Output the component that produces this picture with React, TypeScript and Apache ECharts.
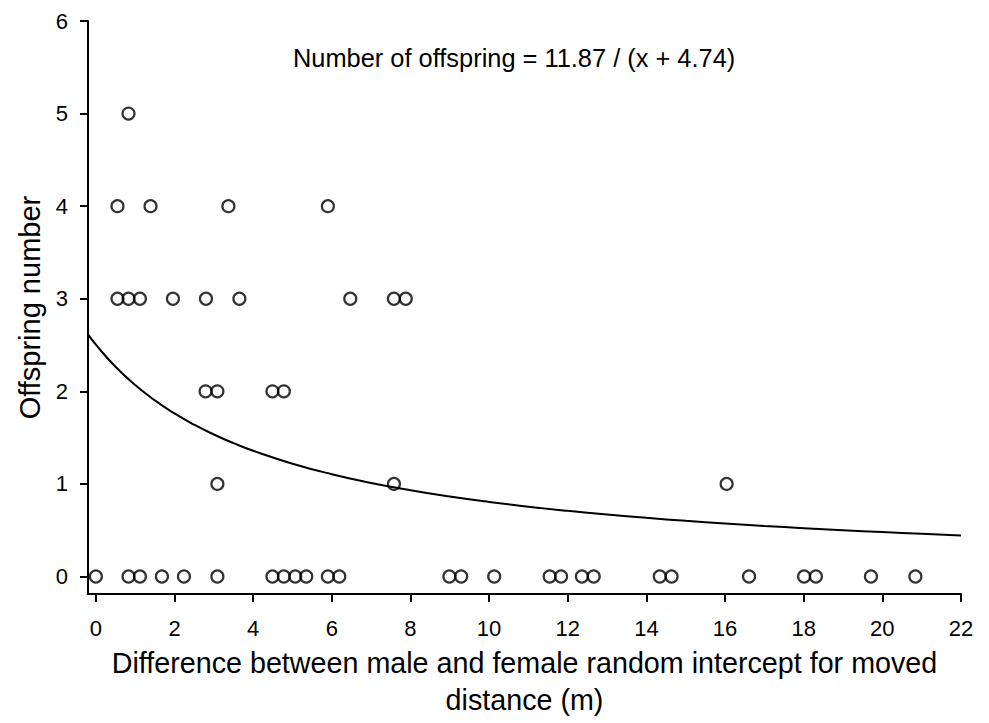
import React, { useEffect, useRef } from "react";
import * as echarts from "echarts";

// Scatter observations (difference in random intercept, offspring number)
const xValues: number[] = [
  0.83,
  0.55, 1.39, 3.37, 5.9,
  0.55, 0.83, 1.12, 1.96, 2.8, 3.65, 6.47, 7.58, 7.88,
  2.79, 3.09, 4.49, 4.78,
  3.09, 7.58, 16.04,
  0.0, 0.83, 1.12, 1.68, 2.24, 3.09, 4.49, 4.78, 5.07, 5.35, 5.9, 6.19,
  8.99, 9.29, 10.13, 11.54, 11.83, 12.36, 12.66, 14.34, 14.64,
  16.61, 18.01, 18.31, 19.71, 20.84,
];
const yValues: number[] = [
  5,
  4, 4, 4, 4,
  3, 3, 3, 3, 3, 3, 3, 3, 3,
  2, 2, 2, 2,
  1, 1, 1,
  0, 0, 0, 0, 0, 0, 0, 0, 0, 0, 0, 0,
  0, 0, 0, 0, 0, 0, 0, 0, 0,
  0, 0, 0, 0, 0,
];

// Fitted model printed on the chart: y = A / (x + B)
const fitA = 11.87;
const fitB = 4.74;
const fitX: number[] = [
  -0.2, 0, 0.5, 1, 1.5, 2, 2.5, 3, 3.5, 4, 5, 6, 7, 8, 9, 10, 11, 12, 13, 14,
  15, 16, 17, 18, 19, 20, 21, 22,
];

const xTicks: number[] = [0, 2, 4, 6, 8, 10, 12, 14, 16, 18, 20, 22];
const yTicks: number[] = [0, 1, 2, 3, 4, 5, 6];

const annotation = "Number of offspring = 11.87 / (x + 4.74)";
const xName = "Difference between male and female random intercept for moved\ndistance (m)";
const yName = "Offspring number";

const FONT = "Liberation Sans, Arial, Helvetica, sans-serif";

export default function App() {
  const ref = useRef<HTMLDivElement>(null);
  useEffect(() => {
    if (!ref.current) return;
    const chart = echarts.init(ref.current, null, { renderer: "svg" });
    const scatterData = xValues.map((x, i) => [x, yValues[i]]);
    const fitData = fitX.map((x) => [x, fitA / (x + fitB)]);
    chart.setOption({
      animation: false,
      backgroundColor: "#ffffff",
      textStyle: { fontFamily: FONT },
      grid: { left: 88, right: 28, top: 21, bottom: 124, containLabel: false },
      xAxis: {
        type: "value",
        min: -0.2,
        max: 22,
        name: xName,
        nameLocation: "middle",
        nameGap: 49,
        nameTextStyle: { fontSize: 28.7, color: "#000", lineHeight: 37, fontFamily: FONT },
        axisLine: { show: true, onZero: false, lineStyle: { color: "#000", width: 2 } },
        axisTick: { show: true, length: 8, customValues: xTicks, lineStyle: { color: "#000", width: 2 } },
        axisLabel: { customValues: xTicks, fontSize: 22, color: "#000", margin: 23, fontFamily: FONT },
        splitLine: { show: false },
      },
      yAxis: {
        type: "value",
        min: -0.19,
        max: 6,
        name: yName,
        nameLocation: "middle",
        nameGap: 44,
        nameTextStyle: { fontSize: 29, color: "#000", fontFamily: FONT },
        axisLine: { show: true, onZero: false, lineStyle: { color: "#000", width: 2 } },
        axisTick: { show: true, length: 8, customValues: yTicks, lineStyle: { color: "#000", width: 2 } },
        axisLabel: { customValues: yTicks, fontSize: 22, color: "#000", margin: 20, fontFamily: FONT },
        splitLine: { show: false },
      },
      graphic: [
        {
          type: "text",
          left: 293,
          top: 45,
          style: { text: annotation, fontSize: 25.4, fill: "#000", fontFamily: FONT },
        },
      ],
      series: [
        {
          type: "line",
          data: fitData,
          smooth: true,
          showSymbol: false,
          symbol: "none",
          lineStyle: { color: "#000", width: 2 },
          z: 1,
        },
        {
          type: "scatter",
          data: scatterData,
          symbol: "circle",
          symbolSize: 12,
          itemStyle: { color: "rgba(0,0,0,0)", borderColor: "#000", borderWidth: 2.2 },
          z: 2,
        },
      ],
    });
    return () => chart.dispose();
  }, []);
  return <div ref={ref} style={{ width: 989, height: 723, position: "absolute", left: 0, top: 0 }} />;
}
